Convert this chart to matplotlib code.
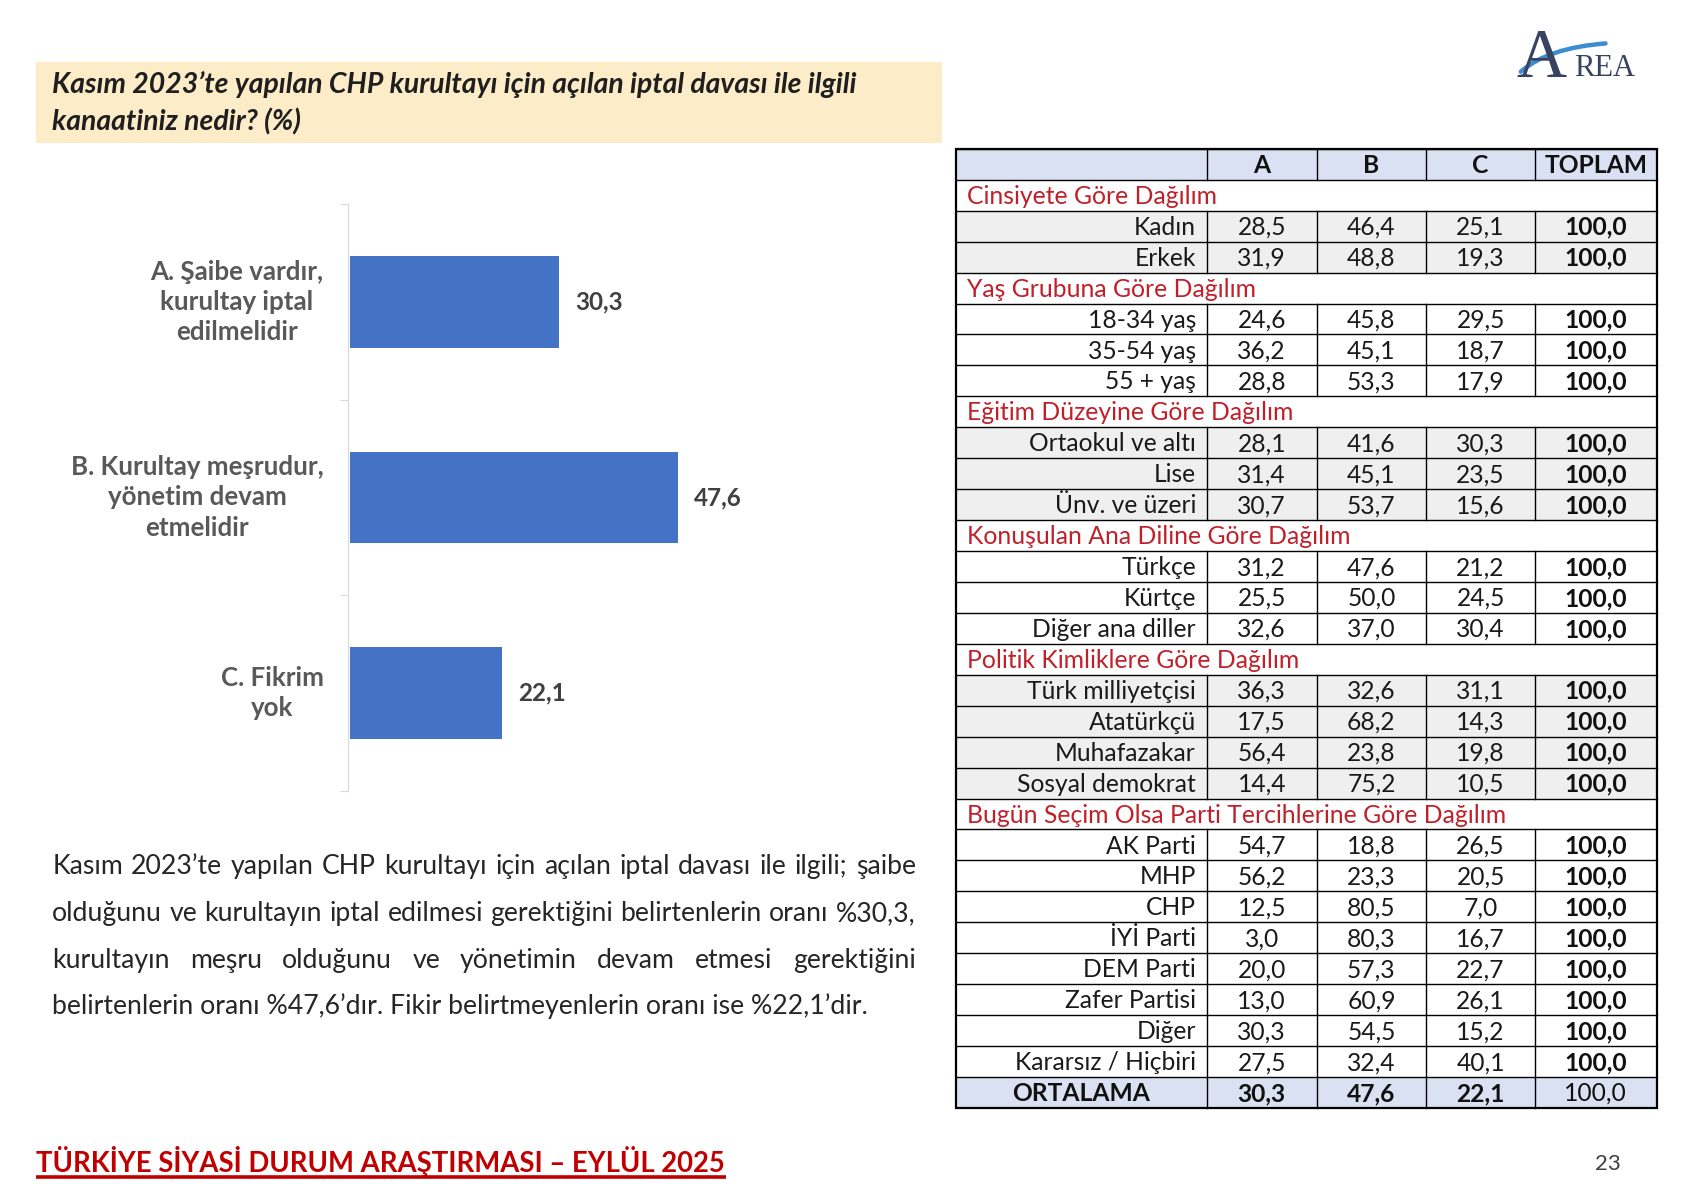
import numpy as np
import matplotlib
matplotlib.use("Agg")
from matplotlib import pyplot as plt
from matplotlib import font_manager
from matplotlib.patches import Rectangle, PathPatch
from matplotlib.path import Path

# DATA
options = ["A. Şaibe vardır,\nkurultay iptal\nedilmelidir",
           "B. Kurultay meşrudur,\nyönetim devam\netmelidir",
           "C. Fikrim\nyok"]
shares = [30.3, 47.6, 22.1]

col_names = ["A", "B", "C", "TOPLAM"]
sections = ["Cinsiyete Göre Dağılım",
            "Yaş Grubuna Göre Dağılım",
            "Eğitim Düzeyine Göre Dağılım",
            "Konuşulan Ana Diline Göre Dağılım",
            "Politik Kimliklere Göre Dağılım",
            "Bugün Seçim Olsa Parti Tercihlerine Göre Dağılım"]

gender_labels = ["Kadın", "Erkek"]
gender_vals = [[28.5, 46.4, 25.1], [31.9, 48.8, 19.3]]
age_labels = ["18-34 yaş", "35-54 yaş", "55 + yaş"]
age_vals = [[24.6, 45.8, 29.5], [36.2, 45.1, 18.7], [28.8, 53.3, 17.9]]
edu_labels = ["Ortaokul ve altı", "Lise", "Ünv. ve üzeri"]
edu_vals = [[28.1, 41.6, 30.3], [31.4, 45.1, 23.5], [30.7, 53.7, 15.6]]
lang_labels = ["Türkçe", "Kürtçe", "Diğer ana diller"]
lang_vals = [[31.2, 47.6, 21.2], [25.5, 50.0, 24.5], [32.6, 37.0, 30.4]]
pol_labels = ["Türk milliyetçisi", "Atatürkçü", "Muhafazakar", "Sosyal demokrat"]
pol_vals = [[36.3, 32.6, 31.1], [17.5, 68.2, 14.3], [56.4, 23.8, 19.8], [14.4, 75.2, 10.5]]
party_labels = ["AK Parti", "MHP", "CHP", "İYİ Parti", "DEM Parti", "Zafer Partisi",
                "Diğer", "Kararsız / Hiçbiri"]
party_vals = [[54.7, 18.8, 26.5], [56.2, 23.3, 20.5], [12.5, 80.5, 7.0], [3.0, 80.3, 16.7],
              [20.0, 57.3, 22.7], [13.0, 60.9, 26.1], [30.3, 54.5, 15.2], [27.5, 32.4, 40.1]]
total_label = "ORTALAMA"
total_vals = [30.3, 47.6, 22.1]
toplam = 100.0

section_labels = [gender_labels, age_labels, edu_labels, lang_labels, pol_labels, party_labels]
section_vals = [gender_vals, age_vals, edu_vals, lang_vals, pol_vals, party_vals]

paragraph = ["Kasım 2023’te yapılan CHP kurultayı için açılan iptal davası ile ilgili; şaibe",
             "olduğunu ve kurultayın iptal edilmesi gerektiğini belirtenlerin oranı %30,3,",
             "kurultayın meşru olduğunu ve yönetimin devam etmesi gerektiğini",
             "belirtenlerin oranı %47,6’dır. Fikir belirtmeyenlerin oranı ise %22,1’dir."]
title = "Kasım 2023’te yapılan CHP kurultayı için açılan iptal davası ile ilgili\nkanaatiniz nedir? (%)"
footer = "TÜRKİYE SİYASİ DURUM ARAŞTIRMASI – EYLÜL 2025"

# FONTS
names = set(f.name for f in font_manager.fontManager.ttflist)
FONT = ["Lato", "DejaVu Sans"] if "Lato" in names else ["DejaVu Sans"]
NARROW = ["Liberation Sans Narrow"] + FONT if "Liberation Sans Narrow" in names else FONT
plt.rcParams["font.family"] = FONT

# page layout in reference pixels
W, H = 1565., 1102.
fig = plt.figure(figsize=(17, 11.97), dpi=100)
fig.patch.set_facecolor("white")
scale = 1700. / W
renderer = fig.canvas.get_renderer()

page = fig.add_axes([0, 0, 1, 1])
page.set_xlim(0, W)
page.set_ylim(H, 0)
page.axis("off")


def fit(t, w):
  # rescale font so the text is w reference-pixels wide
  ext = t.get_window_extent(renderer).width
  t.set_fontsize(t.get_fontsize() * w * scale / ext)
  return t


def width_of(s, size, **kw):
  t = page.text(0, 0, s, fontsize=size, **kw)
  w = t.get_window_extent(renderer).width / scale
  t.remove()
  return w


# title box
page.add_patch(Rectangle((33, 57), 834, 75, facecolor="#FDECC8", edgecolor="none"))
t = page.text(48, 95, title, fontsize=15, fontweight="bold", fontstyle="italic",
              color="#1F1F1F", va="center", ha="left", linespacing=1.45)
fit(t, 742)

# logo
page.text(1396, 71, "A", family="Liberation Serif", fontsize=50, color="#3A4262", va="baseline")
page.text(1449, 70, "REA", family="Liberation Serif", fontsize=22, color="#3A4262", va="baseline")
swoosh = Path([(1400, 66), (1425, 44), (1478, 40)], [Path.MOVETO, Path.CURVE3, Path.CURVE3])
page.add_patch(PathPatch(swoosh, facecolor="none", edgecolor="#3C8DD0", lw=3.2, capstyle="round"))

# BAR CHART
ax = fig.add_axes([320 / W, 1 - 728 / H, 510 / W, 540 / H])
ypos = np.arange(len(shares))
ax.barh(ypos, shares, height=0.47, color="#4472C4", left=0.4)
ax.set_xlim(0, 80.5)
ax.set_ylim(2.5, -0.5)
for s in ["top", "right", "bottom"]:
  ax.spines[s].set_visible(False)
ax.spines["left"].set_color("#D9D9D9")
ax.set_xticks([])
ax.set_yticks(np.arange(-0.5, 3, 1))
ax.set_yticklabels([])
ax.tick_params(axis="y", length=6, color="#D9D9D9")
ax.patch.set_alpha(0)

lab_texts = []
for i, (lab, v) in enumerate(zip(options, shares)):
  lt = ax.annotate(lab, xy=(0, i), xytext=(-24, 0), textcoords="offset pixels",
                   ha="right", va="center", multialignment="center", fontsize=16,
                   fontweight="bold", color="#595959", linespacing=1.32)
  lab_texts.append(lt)
  ax.annotate(f"{v:.1f}".replace(".", ","), xy=(v + 0.4, i), xytext=(16, 0),
              textcoords="offset pixels", ha="left", va="center", fontsize=17.5,
              fontweight="bold", color="#404040")
fit(lab_texts[1], 233)
for lt in lab_texts:
  lt.set_fontsize(lab_texts[1].get_fontsize())

# PARAGRAPH (justified)
pw0, pw1 = 48, 843
psize = 15
t = page.text(pw0, 0, paragraph[1], fontsize=psize)
fit(t, pw1 - pw0 - 4)
psize = t.get_fontsize()
t.remove()
line_y = [798, 841, 884, 926]
for k, line in enumerate(paragraph):
  if k == len(paragraph) - 1:
    page.text(pw0, line_y[k], line, fontsize=psize, color="#262626", va="center")
    continue
  words = line.split(" ")
  ws = [width_of(wd, psize) for wd in words]
  gap = (pw1 - pw0 - sum(ws)) / (len(words) - 1)
  x = pw0
  for wd, wv in zip(words, ws):
    page.text(x, line_y[k], wd, fontsize=psize, color="#262626", va="center")
    x += wv + gap

# FOOTER
ft = page.text(33, 1069, footer, family=NARROW, fontsize=18, fontweight="bold",
               color="#C00000", va="center")
fit(ft, 635)
page.plot([33, 668], [1084, 1084], color="#C00000", lw=2.6, solid_capstyle="butt")
page.text(1480, 1072, "23", fontsize=16, color="#404040", ha="center", va="center")

# TABLE
xe = [880, 1111, 1212, 1313, 1413, 1525]
top, bot = 137., 1020.
rows = [("head", None, None)]
for si, sec in enumerate(sections):
  rows.append(("sec", sec, si))
  for lab, vals in zip(section_labels[si], section_vals[si]):
    rows.append(("data", lab, (vals, si)))
rows.append(("total", total_label, total_vals))
rh = (bot - top) / len(rows)

fmt = lambda v: f"{v:.1f}".replace(".", ",")
shade = ["#EFEFEF", "white"]
blue = "#D9E1F2"
lw = 1.0

# body font size from one label
tt = page.text(0, 0, "Ortaokul ve altı", fontsize=14)
fit(tt, 154)
bsize = tt.get_fontsize()
tt.remove()
tt = page.text(0, 0, sections[-1], fontsize=14)
fit(tt, 496)
ssize = tt.get_fontsize()
tt.remove()

cx = [(xe[j] + xe[j + 1]) / 2 for j in range(5)]
for i, (kind, lab, payload) in enumerate(rows):
  y0 = top + i * rh
  yc = y0 + rh / 2 + 1
  if kind == "head":
    page.add_patch(Rectangle((xe[0], y0), xe[-1] - xe[0], rh, facecolor=blue, edgecolor="none"))
    for j, cn in enumerate(col_names):
      page.text(cx[j + 1], yc, cn, fontsize=bsize, fontweight="bold", ha="center",
                va="center", color="#111111")
  elif kind == "sec":
    page.text(xe[0] + 10, yc, lab, fontsize=ssize, color="#C0202A", ha="left", va="center")
  elif kind == "data":
    vals, si = payload
    page.add_patch(Rectangle((xe[0], y0), xe[-1] - xe[0], rh, facecolor=shade[si % 2],
                             edgecolor="none"))
    page.text(xe[1] - 10, yc, lab, fontsize=bsize, ha="right", va="center", color="#1A1A1A")
    for j, v in enumerate(vals):
      page.text(cx[j + 1], yc, fmt(v), fontsize=bsize, ha="center", va="center", color="#1A1A1A")
    page.text(cx[4], yc, fmt(toplam), fontsize=bsize, fontweight="bold", ha="center",
              va="center", color="#111111")
  else:
    page.add_patch(Rectangle((xe[0], y0), xe[-1] - xe[0], rh, facecolor=blue, edgecolor="none"))
    page.text(cx[0], yc, lab, fontsize=bsize, fontweight="bold", ha="center", va="center",
              color="#111111")
    for j, v in enumerate(payload):
      page.text(cx[j + 1], yc, fmt(v), fontsize=bsize, fontweight="bold", ha="center",
                va="center", color="#111111")
    page.text(cx[4], yc, fmt(toplam), fontsize=bsize, ha="center", va="center", color="#111111")
  # grid lines
  if kind != "sec":
    for xv in xe[1:-1]:
      page.plot([xv, xv], [y0, y0 + rh], color="black", lw=lw)
  page.plot([xe[0], xe[-1]], [y0, y0], color="black", lw=lw)

page.add_patch(Rectangle((xe[0], top), xe[-1] - xe[0], bot - top, facecolor="none",
                         edgecolor="black", lw=1.6))

fig.savefig("out.png", dpi=100)
